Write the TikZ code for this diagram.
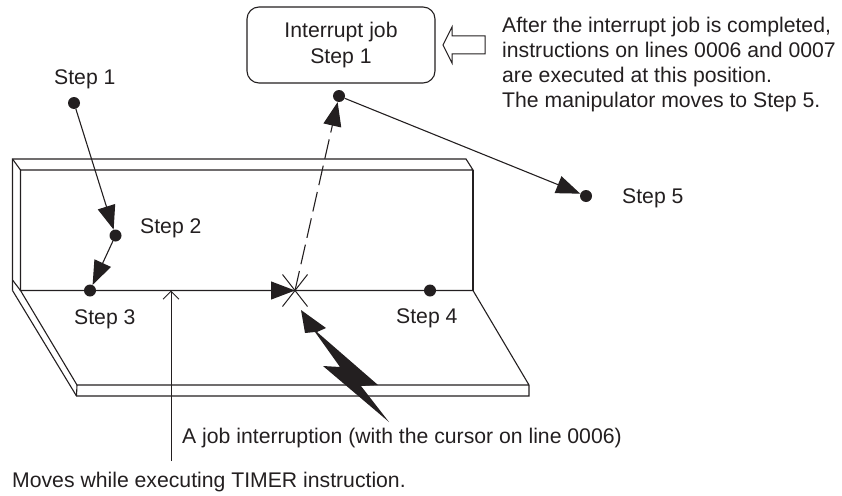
\documentclass[tikz,border=0pt]{standalone}
\usepackage{fontspec}
\setmainfont{Liberation Sans}
\usetikzlibrary{arrows.meta,shapes.misc}
\definecolor{ink}{HTML}{231F20}
\tikzset{
  dot/.style={circle,fill=ink,draw=none,inner sep=0pt,minimum size=12pt},
  lbl/.style={text=ink,font=\fontsize{21.2pt}{25.3pt}\selectfont,inner sep=0pt},
  geom/.style={draw=ink,line width=1.1pt,line join=miter},
  conn/.style={draw=ink,line width=1.1pt,-{Triangle[length=24pt,width=18pt]}},
  thin/.style={draw=ink,line width=1pt}
}
\begin{document}
\begin{tikzpicture}[x=1pt,y=-1pt]
\useasboundingbox (0,0) rectangle (842,495);
% wall
\draw[geom] (12.5,290.5) -- (12.5,159) -- (466,159) -- (473,170) -- (20.5,170) -- (20.5,290.5);
\draw[geom] (12.5,159) -- (20.5,170);
\draw[geom] (473,170) -- (473,290.5);
\draw[geom] (12.5,280) -- (20.5,290.5);
% floor
\draw[geom] (12.5,290.5) -- (76.5,396) -- (529,396) -- (529,385) -- (473,290.5) -- (20.5,290.5) -- (77,385) -- (529,385);
\draw[geom] (77,385) -- (76.5,396);
% bolt
\fill[ink] (301,310) -- (326,328) -- (317,332) -- (378,385) -- (361,386) -- (389,422) -- (323,366) -- (340,367) -- (315,332) -- (305,333) -- cycle;
% nodes
\node[dot] (s1) at (74,103) {};
\node[dot] (s2) at (115.5,235.5) {};
\node[dot] (s3) at (90,290.5) {};
\node[dot] (s4) at (430,290.5) {};
\node[dot] (s5) at (586,196) {};
\node[dot] (ij) at (339,96) {};
\node[cross out,draw=ink,line width=1pt,inner sep=0pt,minimum width=24pt,minimum height=31pt] (x) at (295,290.5) {};
\node[draw=ink,line width=1.1pt,rounded corners=12pt,minimum width=188pt,minimum height=76pt,inner sep=0pt,align=center,lbl] (box) at (341,45) {Interrupt job\\Step 1};
% connectors
\draw[conn] (s1) -- (s2);
\draw[conn] (s2) -- (s3);
\draw[conn] (s3) -- (x.center);
\draw[conn,dash pattern=on 20pt off 7pt] (x.center) -- (ij);
\draw[conn] (ij) -- (s5);
% hollow arrow
\node[coordinate] (ha) at (443,45) {};
\draw[geom,line width=1pt,fill=white] (ha) -- (452,27) -- (452,36) -- (485,36) -- (485,54) -- (452,54) -- (452,63) -- cycle;
% pointer
\node[coordinate] (p0) at (171,461) {};
\node[coordinate] (p1) at (171,290.5) {};
\draw[thin,-{Straight Barb[length=8pt,width=16pt]}] (p0) -- (p1);
% labels
\node[lbl,anchor=base west] (l1) at (54,84) {Step 1};
\node[lbl,anchor=base west] (l2) at (140,233) {Step 2};
\node[lbl,anchor=base west] (l3) at (74,324) {Step 3};
\node[lbl,anchor=base west] (l4) at (396,323) {Step 4};
\node[lbl,anchor=base west] (l5) at (622,203) {Step 5};
\node[lbl,anchor=north west,align=left] (note) at (502,16.5) {After the interrupt job is completed,\\instructions on lines 0006 and 0007\\are executed at this position.\\The manipulator moves to Step 5.};
\node[lbl,anchor=base west] (l6) at (182,443) {A job interruption (with the cursor on line 0006)};
\node[lbl,anchor=base west] (l7) at (12,487) {Moves while executing TIMER instruction.};
\end{tikzpicture}
\end{document}
